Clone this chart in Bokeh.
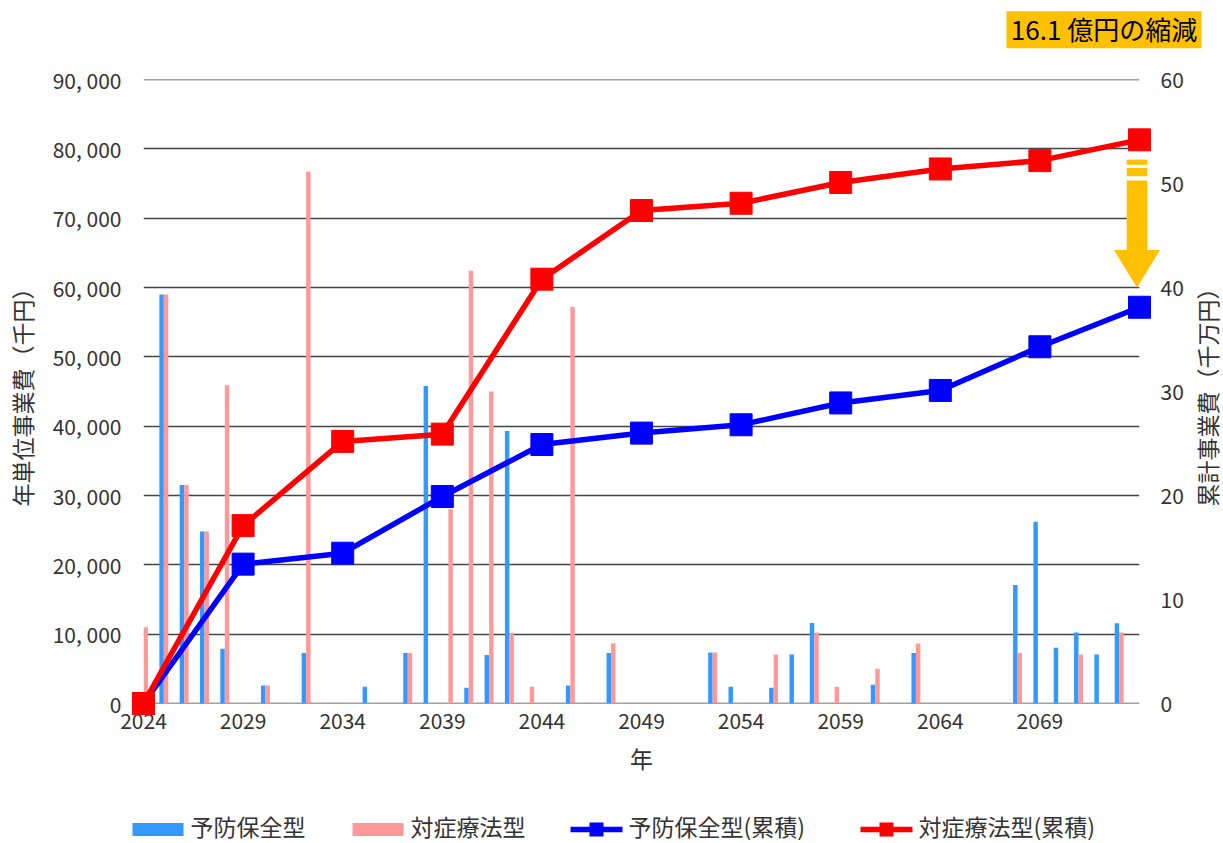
import math
import numpy as np
from bokeh.plotting import figure
from bokeh.models import Range1d, LinearAxis, FixedTicker, Span
from bokeh.core.properties import value
from bokeh.embed import file_html
from bokeh.resources import INLINE

# ---------------- data ----------------
years = list(range(2024, 2074))
preventive = [11000, 59000, 31500, 24800, 7900, 0, 2600, 0, 7300, 0,
              0, 2400, 0, 7300, 45800, 0, 2260, 7000, 39300, 0,
              0, 2600, 0, 7300, 0, 0, 0, 0, 7350, 2400,
              0, 2260, 7070, 11600, 0, 0, 2700, 0, 7300, 0,
              0, 0, 0, 17100, 26200, 8030, 10240, 7070, 11580, 0]
symptomatic = [11000, 59000, 31500, 24800, 45900, 0, 2600, 0, 76700, 0,
               0, 0, 0, 7300, 0, 28000, 62400, 45000, 10200, 2400,
               0, 57200, 0, 8700, 0, 0, 0, 0, 7350, 0,
               0, 7070, 0, 10240, 2400, 0, 5000, 0, 8650, 0,
               0, 0, 0, 7300, 0, 0, 7070, 0, 10240, 2450]

cum_labels = ["2024", "2029", "2034", "2039", "2044", "2049",
              "2054", "2059", "2064", "2069", "2074"]
preventive_cum = [0, 13.4, 14.45, 19.9, 24.9, 26.0, 26.8, 28.9, 30.1, 34.3, 38.1]
symptomatic_cum = [0, 17.1, 25.2, 25.9, 40.8, 47.4, 48.1, 50.1, 51.4, 52.2, 54.2]

left_ticks = list(range(0, 90001, 10000))
left_tick_labels = ["0", "10, 000", "20, 000", "30, 000", "40, 000", "50, 000",
                    "60, 000", "70, 000", "80, 000", "90, 000"]
right_ticks = [0, 10, 20, 30, 40, 50, 60]
shown_x_labels = cum_labels[:10]

names = ["予防保全型", "対症療法型", "予防保全型(累積)", "対症療法型(累積)"]
left_title = "年単位事業費（千円）"
right_title = "累計事業費（千万円）"
x_title = "年"
note_text = "16.1 億円の縮減"
arrow_levels = [52.3, 51.8, 51.5, 50.7, 50.3, 43.6, 40.0]   # in 千万円 units

# ---------------- styles / layout ----------------
FONT = "Noto Sans CJK JP"
TXT = "#333333"
C_BAR_B = "#3399FF"
C_BAR_R = "#FF9999"
C_LINE_B = "#0000FF"
C_LINE_R = "#FF0000"
GOLD = "#FFC000"
GRID = "#444444"

W, H = 1223, 843
BL, BR, BT, BB = 143, 84, 79, 140          # borders around the plot frame
FRAME_W, FRAME_H = W - BL - BR, H - BT - BB
Y_MAX = left_ticks[-1]
R_MAX = right_ticks[-1]
N_IDX = len(cum_labels) - 1
px_idx = FRAME_W / N_IDX
px_cum = FRAME_H / R_MAX


def sx(px):   # page pixel -> category-index units
    return (px - BL) / px_idx


def sy(py):   # page pixel -> right-axis units
    return (H - BB - py) / px_cum


p = figure(width=W, height=H, title=None,
           x_range=Range1d(years[0], years[-1]),
           y_range=Range1d(0, Y_MAX),
           output_backend="svg", toolbar_location=None,
           x_axis_location=None, y_axis_location="left",
           min_border_left=BL, min_border_right=BR,
           min_border_top=BT, min_border_bottom=BB)
p.outline_line_color = None
p.background_fill_color = "white"
p.border_fill_color = "white"

p.extra_x_ranges = {"idx": Range1d(0, N_IDX)}
p.extra_y_ranges = {"cum": Range1d(0, R_MAX)}

for g in p.xgrid:
    g.visible = False
p.ygrid.ticker = FixedTicker(ticks=left_ticks)
p.ygrid.grid_line_color = GRID
p.ygrid.grid_line_width = 1.6
for v in (left_ticks[0], left_ticks[-1]):
    p.add_layout(Span(location=v, dimension="width", line_color=GRID,
                      line_width=1.6, level="underlay"))


def style_axis(ax, standoff):
    ax.axis_line_color = None
    ax.major_tick_line_color = None
    ax.minor_tick_line_color = None
    ax.major_tick_out = 0
    ax.major_tick_in = 0
    ax.minor_tick_out = 0
    ax.minor_tick_in = 0
    ax.major_label_standoff = standoff
    ax.major_label_text_font = FONT
    ax.major_label_text_font_size = "21px"
    ax.major_label_text_color = TXT


def style_title(ax, text, standoff):
    ax.axis_label = text
    ax.axis_label_text_font = FONT
    ax.axis_label_text_font_size = "23px"
    ax.axis_label_text_font_style = "normal"
    ax.axis_label_text_color = TXT
    ax.axis_label_standoff = standoff


ya = p.yaxis[0]
ya.ticker = FixedTicker(ticks=left_ticks)
ya.major_label_overrides = {t: l for t, l in zip(left_ticks, left_tick_labels)}
style_axis(ya, 22)
style_title(ya, left_title, 11)

ra = LinearAxis(y_range_name="cum", ticker=FixedTicker(ticks=right_ticks))
style_axis(ra, 21)
p.add_layout(ra, "right")

xa = LinearAxis(x_range_name="idx", ticker=FixedTicker(ticks=list(range(len(shown_x_labels)))))
xa.major_label_overrides = {i: l for i, l in enumerate(shown_x_labels)}
style_axis(xa, 9)
style_title(xa, x_title, 9)
p.add_layout(xa, "below")

# bars (annual costs)
bw = 0.22
yr = np.array(years, dtype=float)
p.vbar(x=yr - bw / 2, top=preventive, width=bw, bottom=0,
       fill_color=C_BAR_B, line_color=None)
p.vbar(x=yr + bw / 2, top=symptomatic, width=bw, bottom=0,
       fill_color=C_BAR_R, line_color=None)

# cumulative lines (overlay level so that the end markers are not clipped)
idx = list(range(len(cum_labels)))
for vals, col in ((preventive_cum, C_LINE_B), (symptomatic_cum, C_LINE_R)):
    p.line(idx, vals, x_range_name="idx", y_range_name="cum",
           line_color=col, line_width=5.5, level="overlay")
    p.scatter(idx, vals, x_range_name="idx", y_range_name="cum",
              marker="square", size=22, fill_color=col, line_color=col,
              level="overlay")

# gold arrow at the last category
xc = idx[-1] - 2.5 / px_idx
hs = 10.3 / px_idx
hh = 23 / px_idx
a = arrow_levels
arrow_xs = [[xc - hs, xc + hs, xc + hs, xc - hs],
            [xc - hs, xc + hs, xc + hs, xc - hs],
            [xc - hs, xc + hs, xc + hs, xc - hs],
            [xc - hh, xc + hh, xc]]
arrow_ys = [[a[0], a[0], a[1], a[1]],
            [a[2], a[2], a[3], a[3]],
            [a[4], a[4], a[5], a[5]],
            [a[5], a[5], a[6]]]
p.patches(arrow_xs, arrow_ys, x_range_name="idx", y_range_name="cum",
          fill_color=GOLD, line_color=None, level="overlay")

common = dict(x_range_name="idx", y_range_name="cum", level="overlay")

# note box (top right)
NOTE_X, NOTE_Y, NOTE_W, NOTE_H = 1103.5, 29.3, 195, 37
p.rect(x=[sx(NOTE_X)], y=[sy(NOTE_Y)], width=NOTE_W, height=NOTE_H,
       width_units="screen", height_units="screen",
       fill_color=GOLD, line_color=None, **common)
p.text(x=[sx(NOTE_X)], y=[sy(NOTE_Y - 1.5)], text=[note_text],
       text_font=value(FONT), text_font_size=value("26px"), text_color="#000000",
       text_align="center", text_baseline="middle", **common)

# right axis title
p.text(x=[sx(1206)], y=[sy(BT + FRAME_H / 2)], text=[right_title], angle=math.pi / 2,
       text_font=value(FONT), text_font_size=value("23px"), text_color=TXT,
       text_align="center", text_baseline="middle", **common)

# legend (bottom)
LEG_Y = 829
key_x = [157.5, 377.5, 596, 886, 596, 886]
key_w = [51, 51, 52, 52, 14, 14]
key_h = [13, 13, 5.5, 5.5, 14, 14]
key_c = [C_BAR_B, C_BAR_R, C_LINE_B, C_LINE_R, C_LINE_B, C_LINE_R]
lab_x = [190, 410, 628, 918]
p.rect(x=[sx(v) for v in key_x], y=[sy(LEG_Y)] * len(key_x), width=key_w, height=key_h,
       width_units="screen", height_units="screen",
       fill_color=key_c, line_color=None, **common)
p.text(x=[sx(v) for v in lab_x], y=[sy(LEG_Y - 4)] * 4, text=names,
       text_font=value(FONT), text_font_size=value("23px"), text_color=TXT,
       text_align="left", text_baseline="middle", **common)

open("out.html", "w").write(file_html(p, INLINE))
